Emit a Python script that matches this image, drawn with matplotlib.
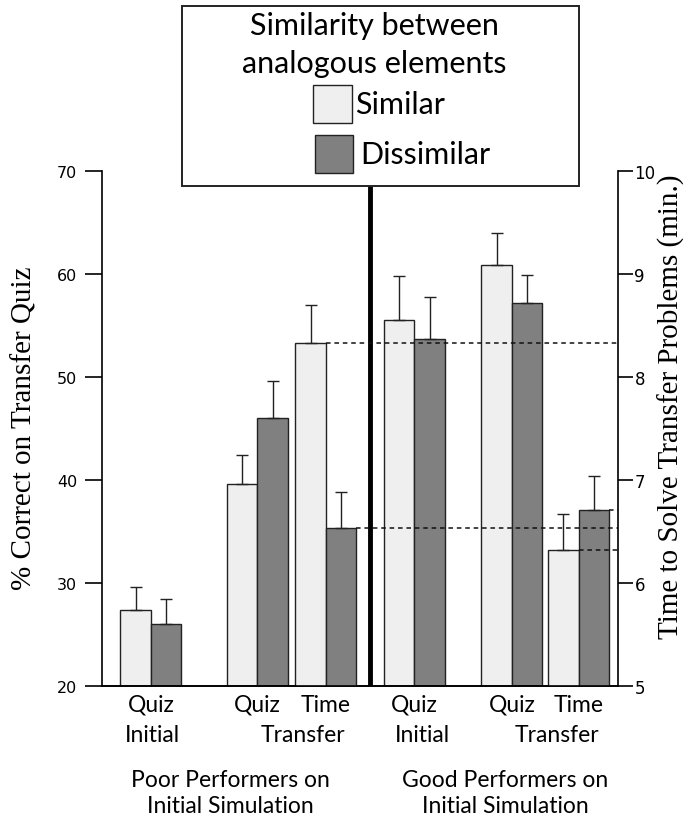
import matplotlib
matplotlib.use("Agg")
import matplotlib.pyplot as plt
from matplotlib.patches import Rectangle

# pair centres (in bar widths) for the six groups of two bars
pair_x = [1.59, 5.08, 7.33, 10.23, 13.43, 15.62]
quiz_idx = [0, 1, 3, 4]
time_idx = [2, 5]

# % correct on quiz (left axis)
quiz_similar = [27.35, 39.55, 55.5, 60.87]
quiz_similar_err = [2.2, 2.85, 4.3, 3.13]
quiz_dissimilar = [25.96, 46.0, 53.66, 57.15]
quiz_dissimilar_err = [2.44, 3.6, 4.11, 2.75]

# time to solve transfer problems (right axis, minutes)
time_similar = [8.33, 6.32]
time_similar_err = [0.37, 0.35]
time_dissimilar = [6.53, 6.71]
time_dissimilar_err = [0.35, 0.33]

row1 = ["Quiz", "Quiz", "Time", "Quiz", "Quiz", "Time"]
row2 = ["Initial", "Transfer", "Initial", "Transfer"]
row2_x = [1.65, 6.58, 10.48, 14.92]
groups = ["Poor Performers on\nInitial Simulation", "Good Performers on\nInitial Simulation"]
groups_x = [4.19, 13.2]

light = "#efefef"
dark = "#808080"
edge = "#222222"
sans = ["Lato", "DejaVu Sans"]
serif = ["Liberation Serif", "DejaVu Serif"]

W, H = 690, 820
def fx(px):
    return px / W
def fy(py):
    return 1 - py / H

fig = plt.figure(figsize=(6.9, 8.2), dpi=100)
ax = fig.add_axes([0.1483, 0.1626, 0.747, 0.628])
ax2 = ax.twinx()

w = 1.0
ekw = dict(ecolor=edge, elinewidth=1, capsize=4.5, capthick=1)
qx = [pair_x[i] for i in quiz_idx]
tx = [pair_x[i] for i in time_idx]

ax.bar([x - w / 2 for x in qx], quiz_similar, w, color=light, edgecolor=edge, lw=1,
       yerr=[[0] * 4, quiz_similar_err], error_kw=ekw)
ax.bar([x + w / 2 for x in qx], quiz_dissimilar, w, color=dark, edgecolor=edge, lw=1,
       yerr=[[0] * 4, quiz_dissimilar_err], error_kw=ekw)
ax2.bar([x - w / 2 for x in tx], time_similar, w, color=light, edgecolor=edge, lw=1,
        yerr=[[0] * 2, time_similar_err], error_kw=ekw)
ax2.bar([x + w / 2 for x in tx], time_dissimilar, w, color=dark, edgecolor=edge, lw=1,
        yerr=[[0] * 2, time_dissimilar_err], error_kw=ekw)

xmax = 16.9
ax.set_xlim(0, xmax)
ax.set_ylim(20, 70)
ax2.set_ylim(5, 10)

# dashed reference lines from the time bars to the right axis
for x, v in zip(tx, time_similar):
    ax2.hlines(v, x, xmax, colors="#111111", linestyles=(0, (3, 2.5)), lw=1.1)
for x, v in zip(tx, time_dissimilar):
    ax2.hlines(v, x + w, xmax, colors="#111111", linestyles=(0, (3, 2.5)), lw=1.1)

# thick separator between poor and good performers
ax.vlines(8.78, 20, 68.5, colors="black", lw=3.5, zorder=5)

for a in (ax, ax2):
    a.spines["top"].set_visible(False)
    a.set_xticks([])
    a.spines["bottom"].set_linewidth(1.2)
ax.spines["right"].set_visible(False)
ax.spines["left"].set_linewidth(1.2)
ax2.spines["left"].set_visible(False)
ax2.spines["right"].set_linewidth(1.2)

ax.set_yticks([20, 30, 40, 50, 60, 70])
ax.tick_params(axis="y", length=12, width=1.2, pad=6, labelsize=11.5)
ax2.set_yticks([5, 6, 7, 8, 9, 10])
ax2.tick_params(axis="y", length=11, width=1.2, pad=1, labelsize=12)

fig.text(fx(25), fy(428), "% Correct on Transfer Quiz", rotation=90, ha="center", va="center",
         family=serif, fontsize=21)
fig.text(fx(671), fy(407), "Time to Solve Transfer Problems (min.)", rotation=90, ha="center",
         va="center", family=serif, fontsize=21)

tr = ax.get_xaxis_transform()
for x, t in zip(pair_x, row1):
    ax.text(x, -0.036, t, transform=tr, ha="center", va="center", family=sans, fontsize=16.5)
for x, t in zip(row2_x, row2):
    ax.text(x, -0.094, t, transform=tr, ha="center", va="center", family=sans, fontsize=16.5)
for x, t in zip(groups_x, groups):
    ax.text(x, -0.207, t, transform=tr, ha="center", va="center", family=sans, fontsize=16.5,
            linespacing=1.3)

# legend box
fig.add_artist(Rectangle((fx(181.7), fy(187)), fx(579) - fx(181.7), fy(7.3) - fy(187),
                         transform=fig.transFigure, facecolor="white", edgecolor=edge, lw=1.4, zorder=10))
fig.text(fx(374), fy(45), "Similarity between\nanalogous elements", ha="center", va="center",
         family=sans, fontsize=22, linespacing=1.4, zorder=11)
fig.add_artist(Rectangle((fx(313), fy(124)), fx(39), 38 / H, transform=fig.transFigure,
                         facecolor=light, edgecolor=edge, lw=1, zorder=11))
fig.add_artist(Rectangle((fx(315), fy(174)), fx(38), 38 / H, transform=fig.transFigure,
                         facecolor=dark, edgecolor=edge, lw=1, zorder=11))
fig.text(fx(355), fy(105), "Similar", ha="left", va="center", family=sans, fontsize=22, zorder=11)
fig.text(fx(360), fy(155), "Dissimilar", ha="left", va="center", family=sans, fontsize=22, zorder=11)

fig.savefig("out.png", dpi=100)
